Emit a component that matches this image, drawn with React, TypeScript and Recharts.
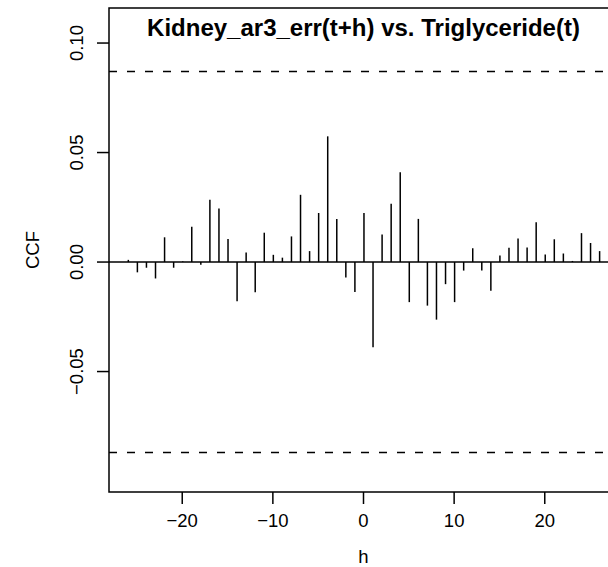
import React from "react";
import {
  BarChart,
  Bar,
  XAxis,
  YAxis,
  ReferenceLine,
  ReferenceArea,
} from "recharts";

// Cross-correlation of Kidney_ar3_err(t+h) with Triglyceride(t), lags -26..26
const lags = [
  -26, -25, -24, -23, -22, -21, -20, -19, -18, -17, -16, -15, -14, -13, -12,
  -11, -10, -9, -8, -7, -6, -5, -4, -3, -2, -1, 0, 1, 2, 3, 4, 5, 6, 7, 8, 9,
  10, 11, 12, 13, 14, 15, 16, 17, 18, 19, 20, 21, 22, 23, 24, 25, 26,
];
const ccfValues = [
  0.001, -0.0047, -0.0026, -0.0075, 0.0113, -0.0026, 0.0003, 0.0161, -0.0012,
  0.0285, 0.0245, 0.0105, -0.0179, 0.0044, -0.0138, 0.0134, 0.0033, 0.002,
  0.0117, 0.0307, 0.005, 0.0224, 0.0574, 0.0196, -0.0071, -0.0137, 0.0224,
  -0.0389, 0.0126, 0.0266, 0.041, -0.0183, 0.0197, -0.0199, -0.0263, -0.0101,
  -0.0183, -0.0039, 0.0063, -0.0039, -0.0131, 0.003, 0.0065, 0.0107, 0.0066,
  0.0182, 0.0035, 0.0104, 0.0039, 0.0005, 0.0132, 0.0087, 0.005,
];
const confidenceBound = 0.087;
const xTicks = [-20, -10, 0, 10, 20];
const yTicks = [-0.05, 0, 0.05, 0.1];
const yTickLabels = ["\u22120.05", "0.00", "0.05", "0.10"];
const xTickLabels = ["\u221220", "\u221210", "0", "10", "20"];

const rows = lags.map((lag, i) => ({ lag, ccf: ccfValues[i] }));

const FONT = "'Liberation Sans', Arial, Helvetica, sans-serif";
const X_DOMAIN: [number, number] = [-28.08, 28.08];
const Y_DOMAIN: [number, number] = [-0.105, 0.116];

const Stem = (props: any) => {
  const { x, y, width, height } = props;
  const cx = x + width / 2;
  return (
    <line
      x1={cx}
      x2={cx}
      y1={y}
      y2={y + height}
      stroke="#000"
      strokeWidth={1.5}
    />
  );
};

const XTick = (props: any) => {
  const { x, y, payload } = props;
  const idx = xTicks.indexOf(payload.value);
  return (
    <text
      x={x}
      y={527}
      textAnchor="middle"
      fontFamily={FONT}
      fontSize={18.5}
      fill="#000"
    >
      {idx >= 0 ? xTickLabels[idx] : payload.value}
    </text>
  );
};

const YTick = (props: any) => {
  const { y, payload } = props;
  const idx = yTicks.indexOf(payload.value);
  return (
    <text
      x={83}
      y={y}
      transform={`rotate(-90 83 ${y})`}
      textAnchor="middle"
      fontFamily={FONT}
      fontSize={18.5}
      fill="#000"
    >
      {idx >= 0 ? yTickLabels[idx] : payload.value}
    </text>
  );
};

export default function App() {
  return (
    <div
      style={{
        position: "absolute",
        left: 0,
        top: 0,
        width: 608,
        height: 567,
        overflow: "hidden",
        background: "#fff",
      }}
    >
      <BarChart
        width={640}
        height={567}
        data={rows}
        margin={{ top: 8, right: 22, bottom: 0, left: 0 }}
      >
        <XAxis
          dataKey="lag"
          type="number"
          domain={X_DOMAIN}
          ticks={xTicks}
          allowDataOverflow
          height={75}
          axisLine={false}
          tickSize={12}
          tickLine={{ stroke: "#000", strokeWidth: 1.5 }}
          tick={<XTick />}
          interval={0}
        />
        <YAxis
          type="number"
          domain={Y_DOMAIN}
          ticks={yTicks}
          allowDataOverflow
          width={109}
          axisLine={false}
          tickSize={12}
          tickLine={{ stroke: "#000", strokeWidth: 1.5 }}
          tick={<YTick />}
          interval={0}
        />
        <ReferenceArea
          x1={X_DOMAIN[0]}
          x2={X_DOMAIN[1]}
          y1={Y_DOMAIN[0]}
          y2={Y_DOMAIN[1]}
          fill="none"
          stroke="#000"
          strokeWidth={1.5}
          ifOverflow="visible"
        />
        <ReferenceLine y={0} stroke="#000" strokeWidth={1.5} />
        <ReferenceLine
          y={confidenceBound}
          stroke="#000"
          strokeWidth={1.5}
          strokeDasharray="8 10"
        />
        <ReferenceLine
          y={-confidenceBound}
          stroke="#000"
          strokeWidth={1.5}
          strokeDasharray="8 10"
        />
        <Bar
          dataKey="ccf"
          barSize={2}
          shape={<Stem />}
          isAnimationActive={false}
        />
        <text
          x={363.5}
          y={36}
          textAnchor="middle"
          fontFamily={FONT}
          fontWeight="bold"
          fontSize={24}
          fill="#000"
        >
          Kidney_ar3_err(t+h) vs. Triglyceride(t)
        </text>
        <text
          x={363.5}
          y={563}
          textAnchor="middle"
          fontFamily={FONT}
          fontSize={18.5}
          fill="#000"
        >
          h
        </text>
        <text
          x={39}
          y={250}
          transform="rotate(-90 39 250)"
          textAnchor="middle"
          fontFamily={FONT}
          fontSize={18.5}
          fill="#000"
        >
          CCF
        </text>
      </BarChart>
    </div>
  );
}
